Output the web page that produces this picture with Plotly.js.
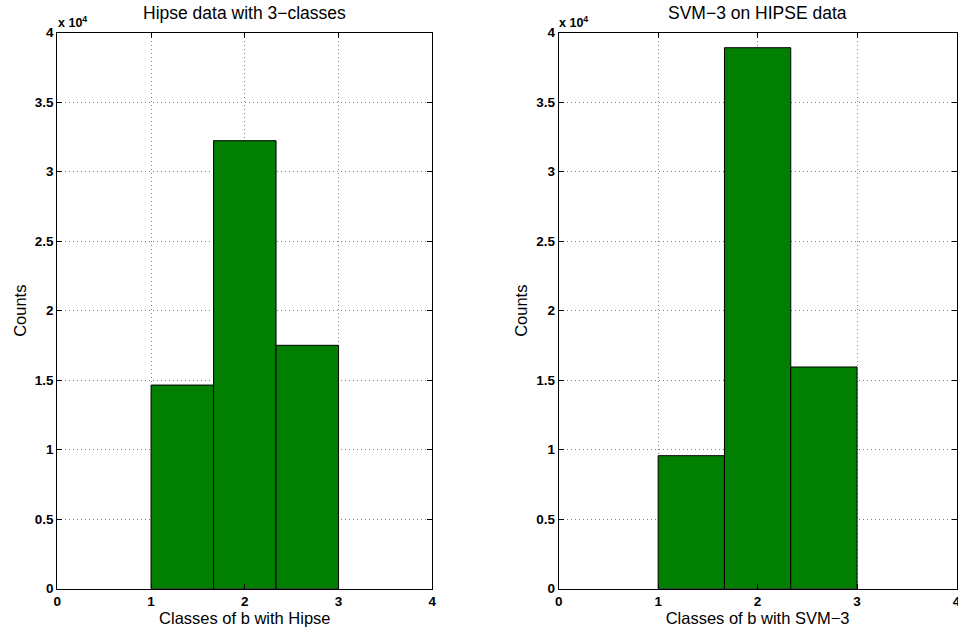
<!DOCTYPE html>
<html>
<head>
<meta charset="utf-8">
<script src="https://cdn.plot.ly/plotly-3.0.1.min.js"></script>
<style>html,body{margin:0;padding:0;background:#fff;}#chart{width:958px;height:632px;}</style>
</head>
<body>
<div id="chart"></div>
<script>
// Histogram bin edges (shared by both panels)
const binEdges = [1, 1.6667, 2.3333, 3];
// Counts per class
const hipseCounts = [14650, 32230, 17510];
const svmCounts = [9570, 38920, 15950];
// Tick labels
const xTickVals = [0, 1, 2, 3, 4];
const yTickVals = [0, 5000, 10000, 15000, 20000, 25000, 30000, 35000, 40000];
const yTickText = ['0', '0.5', '1', '1.5', '2', '2.5', '3', '3.5', '4'];
const titles = ['Hipse data with 3\u2212classes', 'SVM\u22123 on HIPSE data'];
const xTitles = ['Classes of b with Hipse', 'Classes of b with SVM\u22123'];

const centers = binEdges.slice(0, -1).map((e, i) => (e + binEdges[i + 1]) / 2);
const widths = binEdges.slice(0, -1).map((e, i) => binEdges[i + 1] - e);

const barStyle = {color: '#007f00', line: {color: '#000', width: 1}};
const traces = [
  {type: 'bar', x: centers, y: hipseCounts, width: widths, marker: barStyle, xaxis: 'x', yaxis: 'y', hoverinfo: 'x+y'},
  {type: 'bar', x: centers, y: svmCounts, width: widths, marker: barStyle, xaxis: 'x2', yaxis: 'y2', hoverinfo: 'x+y'}
];

const font = 'Liberation Sans, Arial, Helvetica, sans-serif';
const tickFont = {family: font, size: 13.5, color: '#000', weight: 'bold'};
const labelFont = {family: font, size: 16.5, color: '#000'};
function xaxis(domain, title, anchor) {
  return {
    domain: domain, anchor: anchor, range: [0, 4], tickvals: xTickVals, ticktext: xTickVals.map(String),
    ticks: 'inside', ticklen: 5, tickcolor: '#000', showline: true, linecolor: '#000', linewidth: 1, mirror: 'ticks',
    showgrid: true, gridcolor: '#808080', griddash: '1px,3px', gridwidth: 1, zeroline: false,
    tickfont: tickFont, ticklabelstandoff: 0, ticklabeloverflow: 'allow',
    title: {text: title, font: labelFont, standoff: 0},
    automargin: false, fixedrange: true
  };
}
function yaxis(domain, anchor) {
  return {
    domain: domain, anchor: anchor, range: [0, 40000], tickvals: yTickVals, ticktext: yTickText,
    ticks: 'inside', ticklen: 5, tickcolor: '#000', showline: true, linecolor: '#000', linewidth: 1, mirror: 'ticks',
    showgrid: true, gridcolor: '#808080', griddash: '1px,3px', gridwidth: 1, zeroline: false,
    tickfont: tickFont, ticklabeloverflow: 'allow',
    title: {text: 'Counts', font: labelFont, standoff: 4},
    automargin: false, fixedrange: true
  };
}
const yDom = [1 - 588.7 / 632, 1 - 32.7 / 632];
const xDom1 = [57.3 / 958, 432.3 / 958];
const xDom2 = [558.7 / 958, 956.5 / 958];

const layout = {
  width: 958, height: 632,
  margin: {l: 0, r: 0, t: 0, b: 0},
  paper_bgcolor: '#fff', plot_bgcolor: '#fff',
  showlegend: false, bargap: 0,
  font: {family: font, color: '#000'},
  xaxis: xaxis(xDom1, xTitles[0], 'y'),
  yaxis: yaxis(yDom, 'x'),
  xaxis2: xaxis(xDom2, xTitles[1], 'y2'),
  yaxis2: yaxis(yDom, 'x2'),
  annotations: [
    {text: titles[0], xref: 'paper', yref: 'paper', x: (xDom1[0] + xDom1[1]) / 2, y: 1 - 13 / 632, xanchor: 'center', yanchor: 'middle', showarrow: false, font: {family: font, size: 17.5, color: '#000'}},
    {text: titles[1], xref: 'paper', yref: 'paper', x: (xDom2[0] + xDom2[1]) / 2, y: 1 - 13 / 632, xanchor: 'center', yanchor: 'middle', showarrow: false, font: {family: font, size: 17.5, color: '#000'}},
    {text: '<b>x 10<sup>4</sup></b>', xref: 'paper', yref: 'paper', x: 56 / 958, y: 1 - 22 / 632, xanchor: 'left', yanchor: 'middle', showarrow: false, font: {family: font, size: 12.5, color: '#000'}},
    {text: '<b>x 10<sup>4</sup></b>', xref: 'paper', yref: 'paper', x: 557 / 958, y: 1 - 22 / 632, xanchor: 'left', yanchor: 'middle', showarrow: false, font: {family: font, size: 12.5, color: '#000'}}
  ]
};

Plotly.newPlot('chart', traces, layout, {displayModeBar: false, staticPlot: true});
</script>
</body>
</html>
